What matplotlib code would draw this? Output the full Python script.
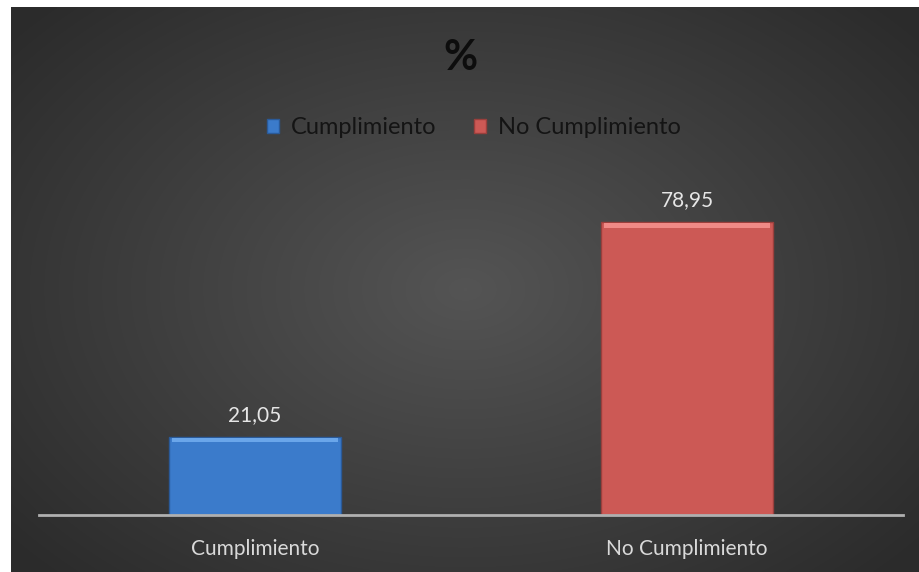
import numpy as np
import matplotlib.pyplot as plt

categories = ['Cumplimiento', 'No Cumplimiento']
values = [21.05, 78.95]
value_labels = ['21,05', '78,95']
bar_colors = ['#3b7bcb', '#cc5955']
edge_colors = ['#2a5a99', '#9a3f3c']
top_colors = ['#6aa6ea', '#f08a86']

plt.rcParams['font.family'] = ['Lato', 'DejaVu Sans']

fig = plt.figure(figsize=(9.2, 5.72), dpi=100)
fig.patch.set_facecolor('white')

# dark radial gradient behind the chart
bg = fig.add_axes([11 / 920, 0, 1 - 11 / 920, 1 - 7 / 572])
yy, xx = np.mgrid[-1:1:300j, -1:1:400j]
r = np.sqrt((xx / 1.0) ** 2 + (yy / 1.1) ** 2)
shade = 0.33 - 0.16 * np.clip(r, 0, 1.3) / 1.3
bg.imshow(np.dstack([shade] * 3), aspect='auto', extent=[0, 1, 0, 1],
          interpolation='bilinear')
bg.axis('off')

ax = fig.add_axes([39 / 920, (572 - 515) / 572, 864 / 920, 334 / 572])
ax.patch.set_alpha(0)
x = np.arange(len(categories))
bars = ax.bar(x, values, width=0.4, color=bar_colors, edgecolor=edge_colors,
              linewidth=1.0, zorder=2)
# bevel highlight along the top of each bar
for b, c in zip(bars, top_colors):
    ax.bar(b.get_x() + b.get_width() / 2, 1.2, width=b.get_width() * 0.96,
           bottom=b.get_height() - 1.5, color=c, linewidth=0, zorder=3)

for xi, v, lab in zip(x, values, value_labels):
    ax.text(xi, v + 3.3, lab, ha='center', va='bottom', color='#e6e6e6',
            fontsize=15)

ax.set_xlim(-0.5, 1.5)
ax.set_ylim(0, 90)
ax.set_yticks([])
ax.set_xticks(x)
ax.set_xticklabels(categories, color='#d9d9d9', fontsize=15)
ax.tick_params(axis='x', length=0, pad=17)
for s in ['top', 'right', 'left']:
    ax.spines[s].set_visible(False)
ax.spines['bottom'].set_color('#b0b0b0')
ax.spines['bottom'].set_linewidth(2)

fig.text(0.5, 1 - 58 / 572, '%', ha='center', va='center', fontsize=30,
         fontweight='bold', color='#0d0d0d')

handles = [plt.Rectangle((0, 0), 1, 1, facecolor=c, edgecolor=e)
           for c, e in zip(bar_colors, edge_colors)]
fig.legend(handles, categories, loc='center', bbox_to_anchor=(474 / 920, 1 - 128 / 572),
           ncol=2, frameon=False, fontsize=17, labelcolor='#141414',
           handlelength=0.5, handleheight=0.5, handletextpad=0.5,
           columnspacing=1.6)

fig.savefig('out.png', dpi=100)
